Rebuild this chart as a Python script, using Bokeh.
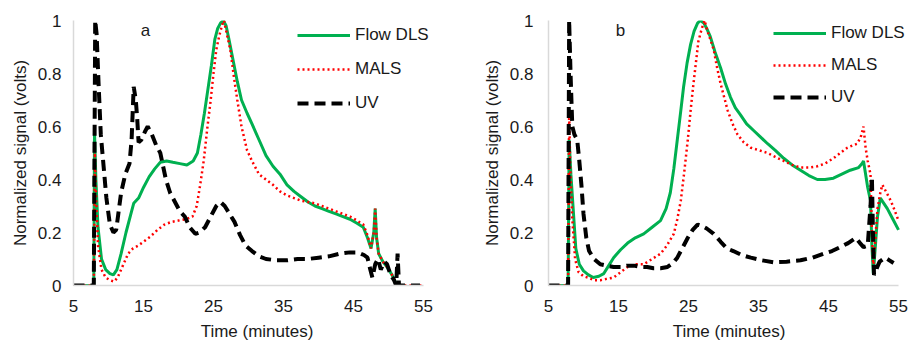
from bokeh.plotting import figure
from bokeh.layouts import row
from bokeh.models import (Legend, LegendItem, Label, FixedTicker, Range1d,
                          NumeralTickFormatter)
from bokeh.embed import file_html
from bokeh.resources import INLINE

FONT = "Liberation Sans"

x_ticks = [5, 15, 25, 35, 45, 55]
y_ticks = [0, 0.2, 0.4, 0.6, 0.8, 1]
series_names = ["Flow DLS", "MALS", "UV"]
panel_labels = ["a", "b"]

# ---------------- Panel a ----------------
a_dls_t = [5.0, 7.9, 8.0, 8.2, 8.5, 9.0, 9.6, 10.2, 10.7, 11.2, 11.8, 12.5, 13.2, 13.6, 14.3,
           15.0, 15.8, 16.6, 17.4, 18.3, 19.2, 20.2, 21.2, 22.1, 22.7, 23.2, 23.7, 24.2, 24.7,
           25.2, 25.6, 26.0, 26.4, 26.8, 27.2, 27.8, 28.4, 29.0, 29.8, 30.5, 31.5, 32.5, 33.5,
           34.5, 35.5, 36.5, 37.5, 38.5, 39.5, 40.5, 41.5, 42.5, 43.5, 44.5, 45.5, 46.4, 47.0,
           47.5, 47.9, 48.1, 48.3, 48.6, 49.2, 49.8, 50.5, 51.2, 52.5]
a_dls_v = [0, 0, 0.58, 0.40, 0.22, 0.10, 0.06, 0.045, 0.04, 0.06, 0.12, 0.20, 0.27, 0.31, 0.33,
           0.37, 0.41, 0.44, 0.465, 0.47, 0.465, 0.46, 0.455, 0.47, 0.50, 0.57, 0.65, 0.74, 0.83,
           0.93, 0.97, 0.99, 1.0, 0.98, 0.93, 0.85, 0.77, 0.70, 0.65, 0.61, 0.55, 0.49, 0.45,
           0.42, 0.38, 0.355, 0.335, 0.315, 0.30, 0.29, 0.28, 0.27, 0.26, 0.25, 0.235, 0.22, 0.18,
           0.14, 0.20, 0.29, 0.18, 0.12, 0.09, 0.07, 0.04, 0.0, 0.0]

a_mals_t = [5.0, 7.9, 8.05, 8.2, 8.5, 9.0, 9.6, 10.2, 10.8, 11.3, 11.8, 12.3, 12.8, 13.5, 14.2,
            15.0, 16.0, 17.0, 18.0, 19.0, 20.0, 21.0, 22.0, 22.6, 23.1, 23.6, 24.1, 24.6, 25.0,
            25.4, 25.8, 26.2, 26.5, 26.9, 27.4, 27.9, 28.4, 29.0, 29.8, 30.5, 31.5, 32.5, 33.5,
            34.5, 35.5, 36.5, 37.5, 38.5, 39.5, 40.5, 41.5, 42.5, 43.5, 44.5, 45.5, 46.4, 47.0,
            47.5, 47.9, 48.1, 48.3, 48.6, 49.2, 49.8, 50.5, 51.3, 55.0]
a_mals_v = [0, 0, 0.50, 0.35, 0.15, 0.06, 0.03, 0.02, 0.015, 0.03, 0.06, 0.09, 0.12, 0.14, 0.15,
            0.165, 0.185, 0.21, 0.23, 0.24, 0.245, 0.25, 0.26, 0.30, 0.38, 0.47, 0.59, 0.70, 0.80,
            0.89, 0.94, 0.98, 1.0, 0.95, 0.89, 0.79, 0.70, 0.60, 0.51, 0.47, 0.42, 0.40, 0.38,
            0.355, 0.34, 0.33, 0.32, 0.315, 0.31, 0.30, 0.29, 0.28, 0.27, 0.26, 0.245, 0.23, 0.19,
            0.14, 0.20, 0.29, 0.18, 0.12, 0.09, 0.07, 0.04, 0.0, 0.0]

a_uv_t = [5.0, 7.9, 8.1, 8.3, 8.6, 8.9, 9.3, 9.7, 10.2, 10.7, 11.1, 11.4, 11.8, 12.4, 13.0, 13.3,
          13.6, 13.9, 14.1, 14.3, 14.7, 15.2, 15.6, 16.2, 16.8, 17.4, 17.8, 18.2, 18.8, 19.4,
          20.2, 20.9, 21.6, 22.4, 23.0, 23.8, 24.6, 25.4, 26.0, 26.6, 27.3, 28.0, 28.8, 29.6,
          30.5, 31.5, 32.5, 34.0, 35.5, 37.0, 38.5, 40.0, 41.5, 43.0, 44.5, 45.6, 46.5, 47.0,
          47.4, 47.7, 48.1, 48.5, 48.9, 49.4, 49.8, 50.3, 50.8, 51.1, 51.3, 51.5, 54.5]
a_uv_v = [0, 0, 1.0, 0.95, 0.75, 0.57, 0.45, 0.33, 0.23, 0.20, 0.21, 0.27, 0.35, 0.42, 0.46, 0.55,
          0.75, 0.70, 0.63, 0.54, 0.55, 0.58, 0.60, 0.57, 0.53, 0.50, 0.45, 0.40, 0.35, 0.32,
          0.28, 0.26, 0.22, 0.195, 0.20, 0.22, 0.26, 0.30, 0.315, 0.30, 0.27, 0.24, 0.19, 0.15,
          0.13, 0.11, 0.10, 0.095, 0.095, 0.10, 0.10, 0.105, 0.11, 0.12, 0.125, 0.125, 0.115, 0.105,
          0.06, 0.03, 0.08, 0.10, 0.06, 0.09, 0.08, 0.04, 0.02, 0.0, 0.12, 0.0, 0.0]

# ---------------- Panel b ----------------
b_dls_t = [5.0, 7.8, 7.95, 8.2, 8.5, 8.9, 9.4, 10.0, 10.7, 11.4, 12.2, 12.9, 13.6, 14.3, 15.3,
           16.3, 17.4, 18.6, 19.8, 21.0, 21.8, 22.4, 22.9, 23.4, 23.9, 24.3, 24.8, 25.3, 25.8,
           26.3, 26.7, 27.2, 27.6, 28.1, 28.8, 29.6, 30.3, 31.0, 31.7, 32.4, 33.3, 34.3, 35.3,
           36.3, 37.4, 38.6, 39.8, 41.0, 42.2, 43.4, 44.5, 45.7, 46.9, 48.1, 49.3, 49.8, 50.0,
           50.3, 50.6, 51.0, 51.2, 51.4, 51.7, 52.0, 52.4, 52.9, 53.4, 54.2, 55.0]
b_dls_v = [0, 0, 0.55, 0.42, 0.30, 0.14, 0.08, 0.055, 0.04, 0.03, 0.035, 0.045, 0.075, 0.105, 0.135,
           0.16, 0.18, 0.195, 0.22, 0.245, 0.29, 0.35, 0.44, 0.55, 0.66, 0.75, 0.84, 0.91, 0.96,
           0.99, 1.0, 0.99, 0.97, 0.94, 0.88, 0.82, 0.76, 0.71, 0.67, 0.645, 0.61, 0.585, 0.56,
           0.535, 0.51, 0.48, 0.455, 0.435, 0.415, 0.40, 0.40, 0.405, 0.42, 0.435, 0.445, 0.46, 0.47,
           0.42, 0.37, 0.32, 0.15, 0.045, 0.15, 0.26, 0.33, 0.31, 0.29, 0.25, 0.21]

b_mals_t = [5.0, 7.8, 7.95, 8.1, 8.4, 8.8, 9.3, 10.0, 10.6, 11.5, 12.4, 13.3, 14.3, 15.3, 16.3,
            17.5, 18.6, 19.8, 21.0, 21.9, 22.9, 23.4, 23.9, 24.4, 24.9, 25.3, 25.7, 26.1, 26.4,
            26.9, 27.3, 27.7, 28.1, 28.6, 29.1, 29.6, 30.1, 30.6, 31.3, 32.0, 32.9, 33.9, 35.1,
            36.3, 37.4, 38.6, 39.8, 41.0, 42.2, 43.4, 44.5, 45.7, 46.7, 47.7, 48.6, 49.1, 49.6,
            50.0, 50.3, 50.6, 51.0, 51.2, 51.4, 51.7, 52.0, 52.4, 52.7, 53.3, 53.9, 54.5, 55.0]
b_mals_v = [0, 0, 0.65, 0.45, 0.25, 0.10, 0.05, 0.035, 0.03, 0.02, 0.02, 0.025, 0.03, 0.05, 0.07,
            0.08, 0.08, 0.10, 0.12, 0.15, 0.195, 0.25, 0.32, 0.43, 0.55, 0.66, 0.76, 0.85, 0.92,
            0.97, 1.0, 0.96, 0.93, 0.89, 0.82, 0.76, 0.71, 0.66, 0.61, 0.57, 0.54, 0.52, 0.51,
            0.50, 0.485, 0.47, 0.455, 0.445, 0.445, 0.45, 0.46, 0.48, 0.50, 0.52, 0.53, 0.535, 0.56,
            0.60, 0.52, 0.47, 0.42, 0.20, 0.07, 0.18, 0.29, 0.35, 0.38, 0.35, 0.32, 0.28, 0.245]

b_uv_t = [5.0, 7.8, 7.95, 8.15, 8.4, 8.7, 9.1, 9.4, 9.7, 10.0, 10.4, 10.8, 11.5, 12.4, 13.3, 14.3,
          15.3, 16.3, 17.2, 18.2, 19.1, 20.0, 21.0, 22.0, 22.8, 23.4, 24.1, 24.9, 25.6, 26.3,
          26.9, 27.6, 28.6, 29.6, 30.5, 31.4, 32.6, 33.9, 35.5, 37.1, 39.0, 41.0, 42.7, 44.3,
          45.5, 46.7, 47.8, 48.9, 49.5, 50.0, 50.6, 51.0, 51.2, 51.35, 51.5, 51.8, 52.3, 53.1,
          53.7, 54.3]
b_uv_v = [0, 0, 1.0, 0.80, 0.60, 0.57, 0.55, 0.47, 0.38, 0.27, 0.18, 0.13, 0.10, 0.08, 0.075, 0.07,
          0.07, 0.075, 0.075, 0.07, 0.07, 0.065, 0.065, 0.07, 0.085, 0.105, 0.14, 0.18, 0.21, 0.23,
          0.225, 0.215, 0.195, 0.165, 0.14, 0.13, 0.115, 0.105, 0.095, 0.088, 0.09, 0.095, 0.105, 0.12,
          0.13, 0.145, 0.16, 0.18, 0.16, 0.145, 0.15, 0.30, 0.41, 0.20, 0.04, 0.06, 0.09, 0.105,
          0.095, 0.085]

GREEN = "#00b050"
RED = "#ff0000"
BLACK = "#000000"


def make_panel(width, border_left, border_right, x_end, data, label, legend_loc,
               legend_spacing, ylab_standoff):
    p = figure(width=width, height=343, output_backend="svg", toolbar_location=None,
               x_range=Range1d(5, x_end), y_range=Range1d(0, 1),
               min_border_left=border_left, min_border_right=border_right,
               min_border_top=20, min_border_bottom=58)
    p.outline_line_color = None
    p.grid.visible = False
    p.background_fill_color = "white"

    for ax in (p.xaxis[0], p.yaxis[0]):
        ax.axis_line_color = "#d9d9d9"
        ax.axis_line_width = 1.5
        ax.major_tick_line_color = None
        ax.minor_tick_line_color = None
        ax.major_tick_out = 0
        ax.major_tick_in = 0
        ax.major_label_text_font = FONT
        ax.major_label_text_font_size = "17px"
        ax.major_label_text_color = "#1a1a1a"
        ax.axis_label_text_font = FONT
        ax.axis_label_text_font_size = "17px"
        ax.axis_label_text_font_style = "normal"
        ax.axis_label_text_color = "#1a1a1a"

    p.xaxis.bounds = (x_ticks[0], x_ticks[-1])
    p.xaxis.ticker = FixedTicker(ticks=x_ticks)
    p.yaxis.ticker = FixedTicker(ticks=y_ticks)
    p.yaxis.formatter = NumeralTickFormatter(format="0.[0]")
    p.xaxis.axis_label = "Time (minutes)"
    p.yaxis.axis_label = "Normalized signal (volts)"
    p.xaxis.major_label_standoff = 14
    p.xaxis.axis_label_standoff = 7
    p.yaxis.major_label_standoff = ylab_standoff
    p.yaxis.axis_label_standoff = 5

    (dt, dv), (mt, mv), (ut, uv) = data
    r1 = p.line(dt, dv, line_color=GREEN, line_width=3)
    r2 = p.line(mt, mv, line_color=RED, line_width=2.5, line_dash="2 3")
    r3 = p.line(ut, uv, line_color=BLACK, line_width=4, line_dash="11 6")

    legend = Legend(items=[LegendItem(label=series_names[0], renderers=[r1]),
                           LegendItem(label=series_names[1], renderers=[r2]),
                           LegendItem(label=series_names[2], renderers=[r3])],
                    location=legend_loc)
    legend.glyph_width = 53
    legend.glyph_height = 20
    legend.label_height = 20
    legend.spacing = legend_spacing
    legend.padding = 0
    legend.margin = 0
    legend.label_standoff = 5
    legend.label_text_font = FONT
    legend.label_text_font_size = "17px"
    legend.label_text_color = "#1a1a1a"
    legend.border_line_color = None
    legend.background_fill_alpha = 0
    p.add_layout(legend)

    p.add_layout(Label(x=15.3, y=0.962, text=label, text_font=FONT, text_font_size="17px",
                       text_align="center", text_baseline="middle", text_color="#1a1a1a"))
    return p


# frame widths chosen so 10 minutes span 70 px; the x range runs a little past 55
# so that the legend labels are not clipped at the plot frame
pa = make_panel(460, 73, 20, 57.43,
                [(a_dls_t, a_dls_v), (a_mals_t, a_mals_v), (a_uv_t, a_uv_v)],
                panel_labels[0], (224, 172), 14, 12)
pb = make_panel(451, 88, 2, 56.57,
                [(b_dls_t, b_dls_v), (b_mals_t, b_mals_v), (b_uv_t, b_uv_v)],
                panel_labels[1], (225, 178), 12, 15)

layout = row(pa, pb)
open("out.html", "w").write(file_html(layout, INLINE))
